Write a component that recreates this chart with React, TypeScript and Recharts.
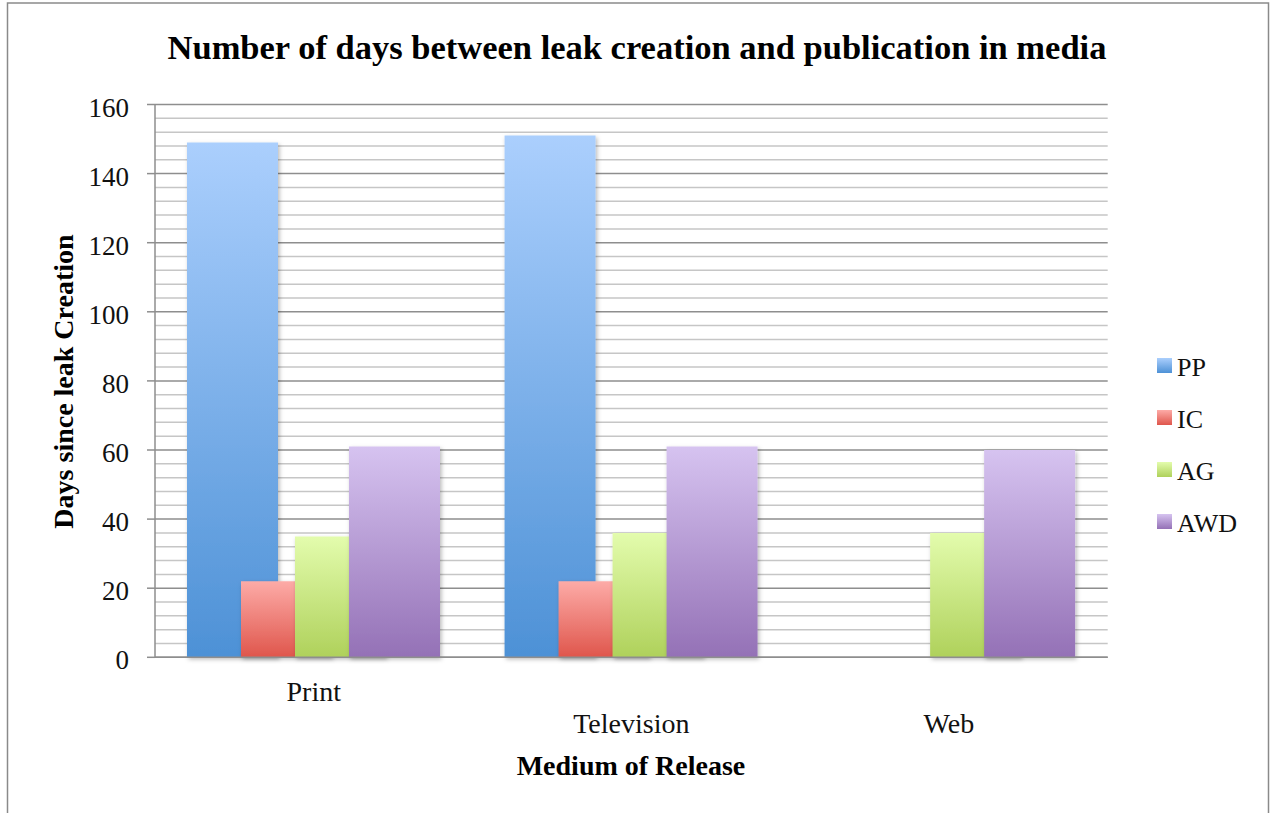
import React from 'react';
import { BarChart, Bar, XAxis, YAxis, CartesianGrid, Legend } from 'recharts';

// Medium of release (x categories)
const categories = ['Print', 'Television', 'Web'];

// Days between leak creation and publication, per group
const ppDays = [149, 151, null];
const icDays = [22, 22, null];
const agDays = [35, 36, 36];
const awdDays = [61, 61, 60];

const seriesNames = ['PP', 'IC', 'AG', 'AWD'];
const seriesTop = ['#abcffd', '#fdaba7', '#e3fcad', '#d6c3f0'];
const seriesBottom = ['#4d91d6', '#df564c', '#afd15b', '#9471b6'];

const majorTicks = [0, 20, 40, 60, 80, 100, 120, 140, 160];
const minorTicks = [
  4, 8, 12, 16, 24, 28, 32, 36, 44, 48, 52, 56, 64, 68, 72, 76,
  84, 88, 92, 96, 104, 108, 112, 116, 124, 128, 132, 136, 144, 148, 152, 156,
];

const data = categories.map((name, i) => ({
  name,
  PP: ppDays[i],
  IC: icDays[i],
  AG: agDays[i],
  AWD: awdDays[i],
}));

const FONT = '"Liberation Serif", "Times New Roman", serif';
const W = 1271;
const H = 813;

const ValueTick = (props: any) => {
  const { x, y, payload } = props;
  return (
    <text x={x} y={y} dy={12} textAnchor="end" fontFamily={FONT} fontSize={27} fill="#111">
      {payload.value}
    </text>
  );
};

const CategoryTick = (props: any) => {
  const { x, y, payload, index } = props;
  return (
    <text
      x={x}
      y={y + (index === 0 ? 44 : 75.5)}
      textAnchor="middle"
      fontFamily={FONT}
      fontSize={28}
      fill="#111"
    >
      {payload.value}
    </text>
  );
};

// Legend entries kept in series order (PP, IC, AG, AWD) from top to bottom
const LegendBox = (props: any) => {
  const entries = [...(props.payload || [])].sort(
    (a: any, b: any) => seriesNames.indexOf(a.value) - seriesNames.indexOf(b.value)
  );
  return (
    <div style={{ fontFamily: FONT }}>
      {entries.map((entry: any) => {
        const idx = seriesNames.indexOf(entry.value);
        return (
          <div key={entry.value} style={{ position: 'relative', height: 52 }}>
            <div
              style={{
                position: 'absolute',
                left: 0,
                top: 5,
                width: 15,
                height: 15,
                background: `linear-gradient(${seriesTop[idx]}, ${seriesBottom[idx]})`,
              }}
            />
            <span
              style={{
                position: 'absolute',
                left: 20,
                top: 2,
                fontSize: 26,
                lineHeight: '26px',
                color: '#111',
                whiteSpace: 'nowrap',
              }}
            >
              {entry.value}
            </span>
          </div>
        );
      })}
    </div>
  );
};

export default function App() {
  return (
    <div style={{ position: 'absolute', left: 0, top: 0, width: W, height: H, background: '#fff', overflow: 'hidden' }}>
      <BarChart
        width={W}
        height={H}
        data={data}
        margin={{ top: 104.5, right: 163.3, bottom: 125.7, left: 75 }}
        barSize={91}
        barGap={-37}
      >
        <defs>
          {seriesNames.map((s, i) => (
            <linearGradient key={s} id={`fill-${s}`} x1="0" y1="0" x2="0" y2="1">
              <stop offset="0%" stopColor={seriesTop[i]} />
              <stop offset="100%" stopColor={seriesBottom[i]} />
            </linearGradient>
          ))}
          <filter id="barShadow" x="-20%" y="-5%" width="140%" height="115%">
            <feDropShadow dx="1.5" dy="2" stdDeviation="2.2" floodColor="#000" floodOpacity="0.28" />
          </filter>
        </defs>
        <CartesianGrid
          vertical={false}
          horizontalValues={minorTicks}
          stroke="#c6c6c6"
          strokeWidth={1.5}
          yAxisId={0}
        />
        <CartesianGrid
          vertical={false}
          horizontalValues={majorTicks}
          stroke="#8e8e8e"
          strokeWidth={1.5}
          yAxisId={0}
        />
        <XAxis
          dataKey="name"
          height={30}
          tickLine={false}
          tickSize={0}
          tickMargin={0}
          axisLine={{ stroke: '#8e8e8e', strokeWidth: 1.5 }}
          tick={<CategoryTick />}
          interval={0}
        />
        <YAxis
          yAxisId={0}
          width={80}
          domain={[0, 160]}
          ticks={majorTicks}
          interval={0}
          tickSize={8}
          tickMargin={18}
          tickLine={{ stroke: '#8e8e8e', strokeWidth: 1.5 }}
          axisLine={{ stroke: '#8e8e8e', strokeWidth: 1.5 }}
          tick={<ValueTick />}
        />
        <YAxis
          yAxisId="minor"
          mirror
          width={0}
          domain={[0, 160]}
          ticks={minorTicks}
          interval={0}
          tickSize={6}
          tick={false}
          axisLine={false}
          tickLine={{ stroke: '#9a9a9a', strokeWidth: 1.5 }}
        />
        {seriesNames.map((s) => (
          <Bar
            key={s}
            dataKey={s}
            yAxisId={0}
            fill={`url(#fill-${s})`}
            filter="url(#barShadow)"
            isAnimationActive={false}
          />
        ))}
        <Legend
          layout="vertical"
          align="center"
          verticalAlign="middle"
          content={<LegendBox />}
          wrapperStyle={{ left: 1157, top: 353, width: 110, height: 210 }}
        />
      </BarChart>
      <svg
        width={W}
        height={H}
        style={{ position: 'absolute', left: 0, top: 0, pointerEvents: 'none' }}
      >
        <rect x={7.5} y={3} width={1261} height={840} fill="none" stroke="#8a8a8a" strokeWidth={1.5} />
        <text x={637} y={59.3} textAnchor="middle" fontFamily={FONT} fontWeight="bold" fontSize={34.5} fill="#000">
          Number of days between leak creation and publication in media
        </text>
        <text
          x={0}
          y={0}
          transform="translate(73, 381.5) rotate(-90)"
          textAnchor="middle"
          fontFamily={FONT}
          fontWeight="bold"
          fontSize={28}
          fill="#000"
        >
          Days since leak Creation
        </text>
        <text x={631} y={775} textAnchor="middle" fontFamily={FONT} fontWeight="bold" fontSize={28} fill="#000">
          Medium of Release
        </text>
      </svg>
    </div>
  );
}
